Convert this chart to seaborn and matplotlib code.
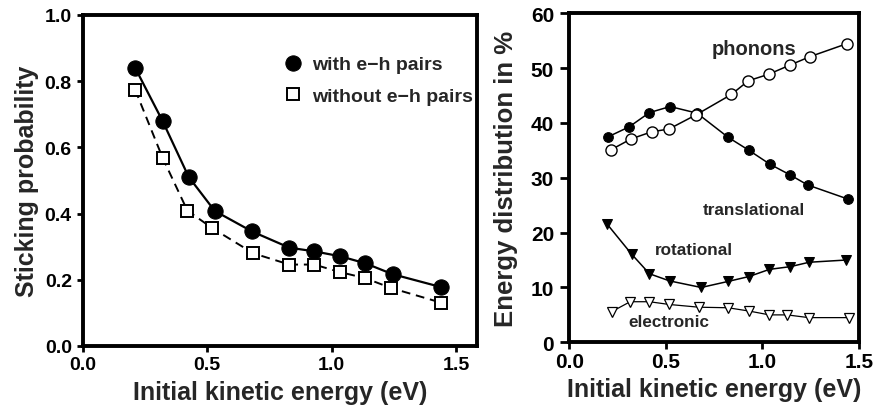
import matplotlib
matplotlib.use("Agg")
import matplotlib.pyplot as plt
import seaborn as sns
import pandas as pd

# ---- data ----
energy_left = [0.21, 0.32, 0.425, 0.53, 0.68, 0.83, 0.93, 1.035, 1.135, 1.245, 1.44]
stick_with = [0.84, 0.68, 0.511, 0.408, 0.346, 0.297, 0.286, 0.271, 0.250, 0.217, 0.178]
energy_left_wo = [0.21, 0.32, 0.42, 0.52, 0.685, 0.83, 0.93, 1.035, 1.135, 1.24, 1.44]
stick_without = [0.774, 0.569, 0.409, 0.356, 0.280, 0.246, 0.246, 0.223, 0.205, 0.175, 0.131]

energy_trans = [0.202, 0.31, 0.415, 0.522, 0.661, 0.822, 0.931, 1.038, 1.145, 1.234, 1.445]
translational = [37.5, 39.3, 41.9, 43.0, 41.8, 37.4, 35.0, 32.5, 30.5, 28.7, 26.1]
energy_phon = [0.215, 0.32, 0.427, 0.516, 0.657, 0.839, 0.927, 1.033, 1.145, 1.246, 1.44]
phonons = [35.1, 37.1, 38.4, 38.9, 41.5, 45.2, 47.7, 48.9, 50.6, 52.1, 54.5]
energy_rot = [0.197, 0.322, 0.415, 0.519, 0.683, 0.822, 0.931, 1.036, 1.145, 1.242, 1.431]
rotational = [21.5, 16.1, 12.5, 11.2, 10.0, 11.1, 12.0, 13.3, 13.8, 14.6, 15.0]
energy_elec = [0.22, 0.315, 0.415, 0.517, 0.671, 0.822, 0.931, 1.036, 1.128, 1.24, 1.448]
electronic = [5.6, 7.4, 7.4, 6.9, 6.4, 6.3, 5.7, 5.0, 5.0, 4.5, 4.5]

xticks = [0.0, 0.5, 1.0, 1.5]
xticklabels = ["0.0", "0.5", "1.0", "1.5"]
left_yticks = [0.0, 0.2, 0.4, 0.6, 0.8, 1.0]
left_yticklabels = ["0.0", "0.2", "0.4", "0.6", "0.8", "1.0"]
right_yticks = [0, 10, 20, 30, 40, 50, 60]
right_yticklabels = ["0", "10", "20", "30", "40", "50", "60"]

sns.set_style("ticks")
plt.rcParams['font.family'] = ['Liberation Sans', 'DejaVu Sans']
plt.rcParams['font.weight'] = 'bold'

fig = plt.figure(figsize=(8.79, 4.10), dpi=100)
axL = fig.add_axes([0.0944, 0.1537, 0.4483, 0.8073])
axR = fig.add_axes([0.6477, 0.1627, 0.3295, 0.8023])

# ---- left panel ----
dfw = pd.DataFrame({"x": energy_left, "y": stick_with})
dfo = pd.DataFrame({"x": energy_left_wo, "y": stick_without})
sns.lineplot(data=dfw, x="x", y="y", ax=axL, color="black", lw=1.6,
             marker="o", markersize=11, markerfacecolor="black",
             markeredgecolor="black", label="with e\u2212h pairs")
sns.lineplot(data=dfo, x="x", y="y", ax=axL, color="black", lw=1.4,
             linestyle=(0, (4.5, 3)), marker="s", markersize=8,
             markerfacecolor="white", markeredgecolor="black", markeredgewidth=1.4,
             label="without e\u2212h pairs")
axL.set_xlim(0, 1.585)
axL.set_ylim(0, 1.0)
axL.set_xticks(xticks)
axL.set_xticklabels(xticklabels)
axL.set_yticks(left_yticks)
axL.set_yticklabels(left_yticklabels)
leg = axL.legend(loc="upper left", bbox_to_anchor=(0.508, 0.877), frameon=False,
                 fontsize=14, handlelength=1.0, handletextpad=0.5,
                 labelspacing=0.7, borderaxespad=0, borderpad=0)
for h in leg.legend_handles:
    h.set_linestyle("none")
for t in leg.get_texts():
    t.set_fontweight("bold")

# ---- right panel ----
sns.lineplot(x=energy_trans, y=translational, ax=axR, color="black", lw=1.1,
             marker="o", markersize=7, markerfacecolor="black", markeredgecolor="black")
sns.lineplot(x=energy_phon, y=phonons, ax=axR, color="black", lw=1.1,
             marker="o", markersize=8, markerfacecolor="white",
             markeredgecolor="black", markeredgewidth=1.0)
sns.lineplot(x=energy_rot, y=rotational, ax=axR, color="black", lw=1.1,
             marker="v", markersize=6.5, markerfacecolor="black", markeredgecolor="black")
sns.lineplot(x=energy_elec, y=electronic, ax=axR, color="black", lw=0.9,
             marker="v", markersize=6.5, markerfacecolor="white",
             markeredgecolor="black", markeredgewidth=0.9)
axR.set_xlim(0, 1.5)
axR.set_ylim(0, 60)
axR.set_xticks(xticks)
axR.set_xticklabels(xticklabels)
axR.set_yticks(right_yticks)
axR.set_yticklabels(right_yticklabels)

axR.text(0.955, 53.5, "phonons", ha="center", va="center", fontsize=14.5, fontweight="bold")
axR.text(0.955, 24.2, "translational", ha="center", va="center", fontsize=12.3, fontweight="bold")
axR.text(0.644, 16.9, "rotational", ha="center", va="center", fontsize=12.3, fontweight="bold")
axR.text(0.514, 3.8, "electronic", ha="center", va="center", fontsize=12.3, fontweight="bold")

for ax, ls in ((axL, 14), (axR, 15)):
    for s in ax.spines.values():
        s.set_linewidth(2.8)
        s.set_visible(True)
        s.set_color("black")
    ax.tick_params(direction="out", width=2, labelsize=ls, colors="black")
    for lab in ax.get_xticklabels() + ax.get_yticklabels():
        lab.set_fontweight("bold")

axL.tick_params(axis="y", length=4.5, pad=3.5)
axL.tick_params(axis="x", length=4.5, pad=2.5)
axR.tick_params(axis="y", length=6.5, pad=4.5)
axR.tick_params(axis="x", length=5, pad=2)

axL.set_xlabel("Initial kinetic energy (eV)", fontsize=18, fontweight="bold", labelpad=5)
axL.set_ylabel("Sticking probability", fontsize=18, fontweight="bold", labelpad=4)
axR.set_xlabel("Initial kinetic energy (eV)", fontsize=18, fontweight="bold", labelpad=4)
axR.set_ylabel("Energy distribution in %", fontsize=18.5, fontweight="bold", labelpad=9)

fig.savefig("out.png", dpi=100)
